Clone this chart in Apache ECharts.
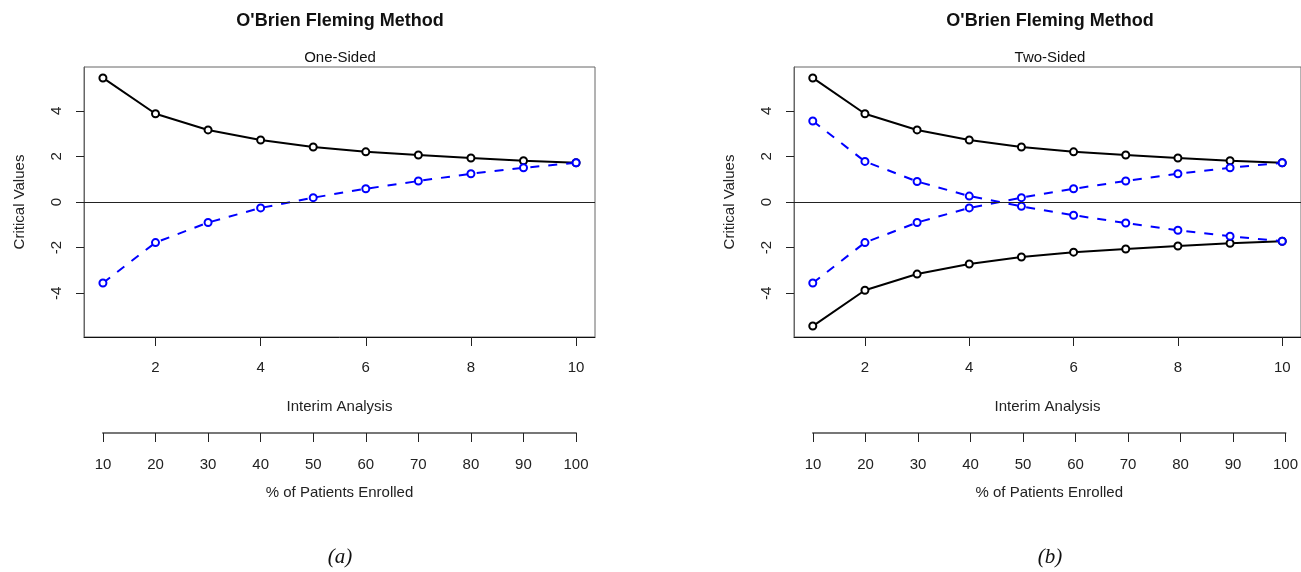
<!DOCTYPE html>
<html>
<head>
<meta charset="utf-8">
<title>O'Brien Fleming Method</title>
<script src="https://cdn.jsdelivr.net/npm/echarts@6/dist/echarts.min.js"></script>
<style>
  html, body { margin: 0; padding: 0; background: #fff; }
  #chart { width: 1301px; height: 572px; }
</style>
</head>
<body>
<div id="chart"></div>
<script>
// interim analysis number and matching % of patients enrolled
var interim = [1, 2, 3, 4, 5, 6, 7, 8, 9, 10];
var pctEnrolled = [10, 20, 30, 40, 50, 60, 70, 80, 90, 100];
var xTicks = [2, 4, 6, 8, 10];
var yTicks = [-4, -2, 0, 2, 4];

// (a) one-sided
var oneUpper = [5.44, 3.87, 3.16, 2.72, 2.41, 2.2, 2.06, 1.93, 1.81, 1.72];
var oneLower = [-3.55, -1.78, -0.9, -0.26, 0.19, 0.58, 0.92, 1.24, 1.5, 1.72];

// (b) two-sided
var twoUpper = [5.44, 3.87, 3.16, 2.72, 2.41, 2.2, 2.06, 1.93, 1.81, 1.72];
var twoLower = [-5.44, -3.87, -3.16, -2.72, -2.41, -2.2, -2.06, -1.93, -1.81, -1.72];
var twoInnerUp = [-3.55, -1.78, -0.9, -0.26, 0.19, 0.58, 0.92, 1.24, 1.5, 1.72];
var twoInnerDown = [3.55, 1.78, 0.9, 0.26, -0.19, -0.58, -0.92, -1.24, -1.5, -1.72];

var FONT = "'Liberation Sans', Arial, sans-serif";
var TXT = '#222';

function pairs(ys) {
  return interim.map(function (k, i) { return [k, ys[i]]; });
}

function solidLine(ys, xi) {
  return {
    type: 'line', xAxisIndex: xi, yAxisIndex: xi, data: pairs(ys),
    symbol: 'emptyCircle', symbolSize: 7,
    lineStyle: { color: '#000', width: 2 },
    itemStyle: { color: '#000', borderWidth: 2 },
    z: 3
  };
}

function dashLine(ys, xi) {
  return {
    type: 'line', xAxisIndex: xi, yAxisIndex: xi, data: pairs(ys),
    symbol: 'emptyCircle', symbolSize: 7,
    lineStyle: { color: '#0000ff', width: 2, type: [9, 9] },
    itemStyle: { color: '#0000ff', borderWidth: 2 },
    z: 4
  };
}

// zero reference line (abline h=0)
function zeroLine(xi) {
  return {
    type: 'line', xAxisIndex: xi, yAxisIndex: xi, data: [],
    markLine: {
      silent: true, symbol: 'none', animation: false,
      label: { show: false },
      lineStyle: { color: '#222', width: 1, type: 'solid' },
      data: [{ yAxis: 0 }]
    },
    z: 2
  };
}

function mainX(gi) {
  return {
    type: 'value', gridIndex: gi, min: 0.64, max: 10.36,
    name: 'Interim Analysis', nameLocation: 'middle', nameGap: 62,
    nameTextStyle: { fontFamily: FONT, fontSize: 15, color: TXT },
    axisLine: { show: true, onZero: false, lineStyle: { color: '#111', width: 1 } },
    axisTick: { show: true, inside: false, length: 9, customValues: xTicks, lineStyle: { color: '#222' } },
    axisLabel: { customValues: xTicks, margin: 23, fontFamily: FONT, fontSize: 15, color: TXT },
    splitLine: { show: false }
  };
}

function mainY(gi) {
  return {
    type: 'value', gridIndex: gi, min: -5.92, max: 5.92,
    name: 'Critical Values', nameLocation: 'middle', nameGap: 57, nameRotate: 90,
    nameTextStyle: { fontFamily: FONT, fontSize: 15, color: TXT },
    axisLine: { show: true, onZero: false, lineStyle: { color: '#666', width: 1 } },
    axisTick: { show: true, inside: false, length: 8, customValues: yTicks, lineStyle: { color: '#222' } },
    axisLabel: { customValues: yTicks, rotate: 90, margin: 20, fontFamily: FONT, fontSize: 15, color: TXT },
    splitLine: { show: false }
  };
}

// second scale under the plot: % of patients enrolled
function pctX(gi) {
  return {
    type: 'value', gridIndex: gi, min: 10, max: 100, interval: 10,
    name: '% of Patients Enrolled', nameLocation: 'middle', nameGap: 52,
    nameTextStyle: { fontFamily: FONT, fontSize: 15, color: TXT },
    axisLine: { show: true, onZero: false, lineStyle: { color: '#777', width: 2 } },
    axisTick: { show: true, inside: false, length: 9, lineStyle: { color: '#222' } },
    axisLabel: { margin: 24, showMinLabel: true, showMaxLabel: true, fontFamily: FONT, fontSize: 15, color: TXT },
    splitLine: { show: false }
  };
}

function hiddenY(gi) {
  return { type: 'value', gridIndex: gi, show: false, min: 0, max: 1 };
}

function label(txt, x, y, font) {
  return {
    type: 'text', x: x, y: y, silent: true,
    style: { text: txt, textAlign: 'center', textVerticalAlign: 'middle', font: font, fill: '#111' }
  };
}

var option = {
  animation: false,
  backgroundColor: '#fff',
  grid: [
    { left: 84, top: 67, width: 511, height: 270, show: true, borderColor: '#666', borderWidth: 1 },
    { left: 794, top: 67, width: 511, height: 270, show: true, borderColor: '#666', borderWidth: 1 },
    { left: 103, top: 432, width: 473, height: 1 },
    { left: 813, top: 432, width: 473, height: 1 }
  ],
  xAxis: [mainX(0), mainX(1), pctX(2), pctX(3)],
  yAxis: [mainY(0), mainY(1), hiddenY(2), hiddenY(3)],
  series: [
    zeroLine(0),
    solidLine(oneUpper, 0),
    dashLine(oneLower, 0),
    zeroLine(1),
    solidLine(twoUpper, 1),
    solidLine(twoLower, 1),
    dashLine(twoInnerDown, 1),
    dashLine(twoInnerUp, 1)
  ],
  graphic: [
    label("O'Brien Fleming Method", 340, 21, "bold 18px " + FONT),
    label("O'Brien Fleming Method", 1050, 21, "bold 18px " + FONT),
    label('One-Sided', 340, 58, "15px " + FONT),
    label('Two-Sided', 1050, 58, "15px " + FONT),
    label('(a)', 340, 557, "italic 21px 'Liberation Serif', 'Times New Roman', serif"),
    label('(b)', 1050, 557, "italic 21px 'Liberation Serif', 'Times New Roman', serif")
  ]
};

var chart = echarts.init(document.getElementById('chart'));
chart.setOption(option);
</script>
</body>
</html>
